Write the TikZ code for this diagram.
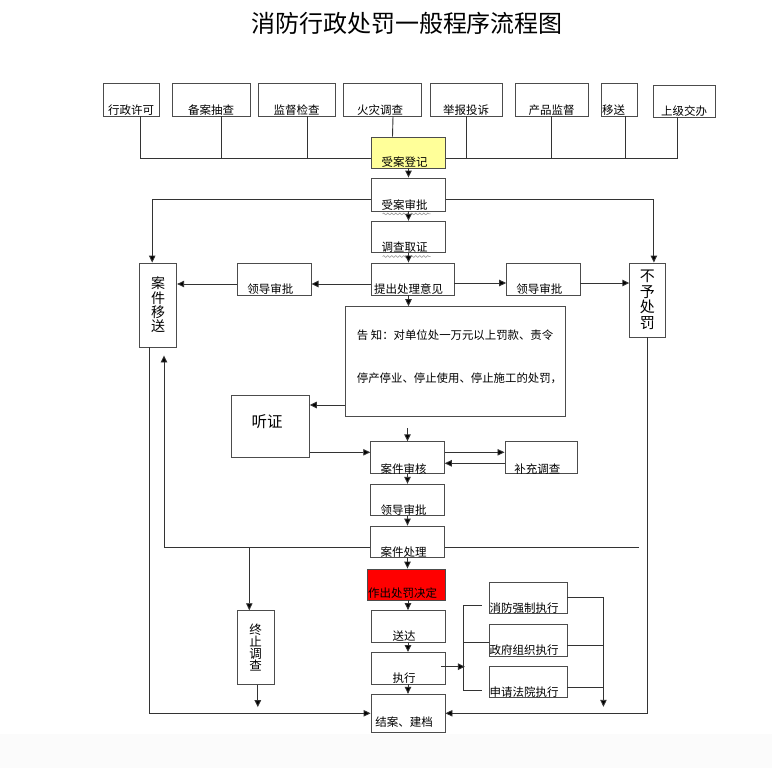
\documentclass[tikz,border=0pt]{standalone}
\usepackage{fontspec}
\setmainfont{Noto Sans CJK SC}
\usetikzlibrary{arrows.meta,positioning,backgrounds,decorations.pathmorphing}
\usepackage{xcolor}
\definecolor{regyellow}{HTML}{FFFF99}
\definecolor{decred}{HTML}{FF0000}
\newcommand{\boxfont}{\fontsize{11.5}{13}\selectfont}

\begin{document}
\begin{tikzpicture}[x=1pt,y=-1pt]
      \tikzstyle{stepbox} = [rectangle, draw=black!70, line width=0.9pt, fill=white, inner sep=0pt]
      \tikzstyle{colbox} = [stepbox, minimum width=74pt, minimum height=31.5pt]
      \tikzstyle{srcbox} = [stepbox, minimum height=33pt]
      \tikzstyle{tag} = [anchor=center, yshift=6pt, inner sep=0pt, font=\boxfont]
      \tikzstyle{tagl} = [tag, xshift=-4pt]
      \tikzstyle{vtext} = [align=center]
      \tikzstyle{line} = [draw=black!80, line width=0.9pt]
      \tikzstyle{arrow} = [line, -{Triangle[length=7pt,width=6.5pt,fill=black]}]
      \tikzstyle{squiggle} = [draw=black!45, line width=0.5pt, decorate, decoration={snake, segment length=4pt, amplitude=0.9pt}]

      \useasboundingbox (0,0) rectangle (772,768);
      \fill[black!1.5] (0,734) rectangle (772,768);

      \node[inner sep=0pt, font=\fontsize{24}{26}\selectfont] (title) at (407,23) {消防行政处罚一般程序流程图};

      % sources
      \node[srcbox, minimum width=56pt, label={[tag]south:行政许可}] (src1) at (131,99.5) {};
      \node[srcbox, minimum width=78pt, label={[tag]south:备案抽查}] (src2) at (211,99.5) {};
      \node[srcbox, minimum width=77pt, label={[tag]south:监督检查}] (src3) at (296.5,99.5) {};
      \node[srcbox, minimum width=78pt, label={[tag, xshift=-2.5pt]south:火灾调查}] (src4) at (382.5,99.5) {};
      \node[srcbox, minimum width=72pt, label={[tag]south:举报投诉}] (src5) at (466,99.5) {};
      \node[srcbox, minimum width=73.5pt, label={[tag]south:产品监督}] (src6) at (551.7,99.5) {};
      \node[srcbox, minimum width=36pt, label={[tag, xshift=-5.5pt]south:移送}] (src7) at (619,99.5) {};
      \node[srcbox, minimum width=62pt, minimum height=32pt, label={[tag]south:上级交办}] (src8) at (684,101) {};

      % main column
      \node[colbox, fill=regyellow, minimum height=31pt, label={[tagl]south:受案登记}] (reg) at (408.5,152.5) {};
      \node[colbox, minimum height=33pt, label={[tagl]south:受案审批}] (approve) at (408.5,194.5) {};
      \node[colbox, label={[tagl]south:调查取证}] (evid) at (408.5,237) {};
      \node[stepbox, minimum width=83pt, minimum height=32pt, label={[tagl, yshift=0.7pt]south:提出处理意见}] (propose) at (412.5,279) {};
      \node[stepbox, minimum width=73.3pt, minimum height=32pt, label={[tagl]south:领导审批}] (leadL) at (274.4,279) {};
      \node[stepbox, minimum width=73.4pt, minimum height=32pt, label={[tagl]south:领导审批}] (leadR) at (543.3,279) {};
      \node[stepbox, vtext, minimum width=37pt, minimum height=84pt, font=\fontsize{14}{14.3}\selectfont] (transfer) at (158.2,305) {案\\件\\移\\送};
      \node[stepbox, vtext, minimum width=35.3pt, minimum height=74pt, font=\fontsize{15}{15.5}\selectfont] (nopen) at (647.4,300) {不\\予\\处\\罚};
      \node[stepbox, minimum width=220pt, minimum height=109.3pt,
            label={[anchor=center, xshift=4.5pt, yshift=4.8pt, align=left, font=\fontsize{11.4}{43}\selectfont]center:告~知：对单位处一万元以上罚款、责令\\停产停业、停止使用、停止施工的处罚，}] (notice) at (455,361.3) {};
      \node[stepbox, minimum width=77.6pt, minimum height=62.7pt,
            label={[anchor=center, xshift=-3.5pt, yshift=4.6pt, font=\fontsize{15.5}{17}\selectfont]center:听证}] (hearing) at (270.5,426.3) {};
      \node[colbox, minimum width=73.6pt, label={[tagl, yshift=-1pt]south:案件审核}] (review) at (407.5,457.5) {};
      \node[stepbox, minimum width=72.7pt, minimum height=31.6pt, label={[tagl, yshift=-1pt]south:补充调查}] (supp) at (541.3,457.5) {};
      \node[colbox, minimum width=73.6pt, label={[tagl]south:领导审批}] (leadM) at (407.5,500) {};
      \node[colbox, minimum width=73.6pt, label={[tagl]south:案件处理}] (handle) at (407.5,541.8) {};
      \node[stepbox, fill=decred, minimum width=77.7pt, minimum height=31pt, label={[tagl, yshift=1pt]south:作出处罚决定}] (decide) at (406.5,584.5) {};
      \node[colbox, label={[tagl]south:送达}] (deliver) at (408,626.3) {};
      \node[colbox, label={[tagl]south:执行}] (exec) at (408,668.2) {};
      \node[colbox, minimum height=38pt, label={[tagl, yshift=4.6pt]south:结案、建档}] (close) at (408,713.3) {};
      \node[stepbox, vtext, minimum width=37pt, minimum height=73.6pt, font=\fontsize{12.5}{12.3}\selectfont] (stop) at (255.5,647.5) {终\\止\\调\\查};
      \node[stepbox, minimum width=78pt, minimum height=31pt, label={[tagl]south:消防强制执行}] (force) at (528,597.8) {};
      \node[stepbox, minimum width=78pt, minimum height=31.3pt, label={[tagl]south:政府组织执行}] (gov) at (528,640.3) {};
      \node[stepbox, minimum width=78pt, minimum height=31pt, label={[tagl]south:申请法院执行}] (court) at (528,682.2) {};

      \coordinate (bus) at (0,158);
      \coordinate (loopend) at (639,547);
      \coordinate (stopfork) at (249.3,547);

      % sources to registration
      \draw[line] ([xshift=9pt]src1.south) |- (bus -| reg.west);
      \draw[line] ([xshift=-6.5pt]src8.south) |- (bus -| reg.east);
      \draw[line] ([xshift=10pt]src2.south) -- ++(0,42);
      \draw[line] ([xshift=10.5pt]src3.south) -- ++(0,42);
      \draw[line] ([xshift=10.5pt]src4.south) -- ([xshift=-16pt]reg.north);
      \draw[line] (src5.south) -- ++(0,42);
      \draw[line] (src6.south) -- ++(0,42);
      \draw[line] ([xshift=6pt]src7.south) -- ++(0,42);

      \draw[squiggle] ([xshift=-26pt,yshift=-2.5pt]approve.south) -- ++(48,0);
      \draw[squiggle] ([xshift=-26pt,yshift=-3.3pt]evid.south) -- ++(48,0);

      % main flow
      \draw[arrow] (reg) -- (approve);
      \draw[arrow] (approve) -- (evid);
      \draw[arrow] (evid) -- (evid |- propose.north);
      \draw[arrow] (propose.south -| evid) -- (evid |- notice.north);
      \draw[arrow] ([yshift=13pt]review.north) -- (review.north);
      \draw[arrow] (review) -- (leadM);
      \draw[arrow] (leadM) -- (handle);
      \draw[arrow] (handle.south) -- (handle.south |- decide.north);
      \draw[arrow] (decide.south -| deliver) -- (deliver.north);
      \draw[arrow] (deliver) -- (exec);
      \draw[arrow] (exec) -- (close);

      % branches
      \draw[arrow] ([yshift=-5pt]approve.west) -| ([xshift=-6pt]transfer.north);
      \draw[arrow] ([yshift=-5pt]approve.east) -| ([xshift=6.5pt]nopen.north);
      \draw[arrow] ([yshift=-5pt]propose.west) -- ([yshift=-5pt]leadL.east);
      \draw[arrow] ([yshift=-5pt]leadL.west) -- ([yshift=21pt]transfer.east);
      \draw[arrow] ([yshift=-4pt]propose.east) -- ([yshift=-4pt]leadR.west);
      \draw[arrow] ([yshift=-4pt]leadR.east) -- ([yshift=17pt]nopen.west);
      \draw[arrow] ([yshift=-43.7pt]notice.west) -- ([yshift=21.3pt]hearing.east);
      \draw[arrow] ([yshift=-26pt]hearing.east) -- ([yshift=5.2pt]review.west);
      \draw[arrow] ([yshift=5.2pt]review.east) -- ([yshift=5.2pt]supp.west);
      \draw[arrow] ([yshift=-5.8pt]supp.west) -- ([yshift=-5.8pt]review.east);
      \begin{scope}[on background layer]
        \draw[arrow] (loopend) -| ([xshift=5.8pt,yshift=-8pt]transfer.south);
      \end{scope}
      \draw[arrow] (stopfork) -- ([xshift=-6.2pt]stop.north);
      \draw[arrow] ([xshift=2.3pt]stop.south) -- ++(0,22.4);
      \draw[arrow] ([xshift=-9.2pt]transfer.south) |- (close.west);
      \draw[arrow] (nopen.south) |- (close.east);

      % execution
      \draw[arrow] ([xshift=-4pt,yshift=1.5pt]exec.east) -- ++(23.5,0);
      \draw[line] ([xshift=-7pt,yshift=-8pt]force.west) -| ([xshift=-25pt]gov.west) |- ([xshift=-7pt,yshift=-7.8pt]court.west);
      \draw[line] ([xshift=-25pt,yshift=-2.4pt]gov.west) -- ([yshift=-2.4pt]gov.west);
      \draw[arrow] (force.east) -| ++(36,109);
      \draw[line] ([yshift=-5.4pt]gov.east) -- ++(36,0);
      \draw[line] ([yshift=-5.5pt]court.east) -- ++(36,0);
    \end{tikzpicture}
\end{document}
